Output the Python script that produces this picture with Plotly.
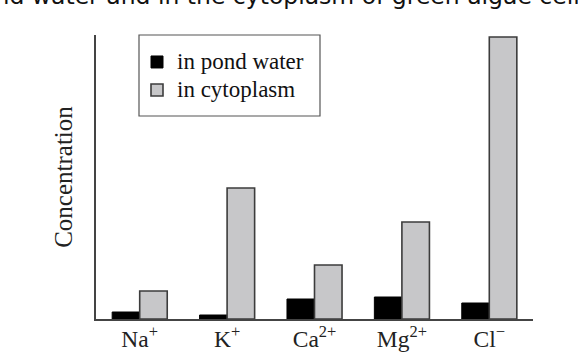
import plotly.graph_objects as go

# Data (arbitrary concentration units)
ions = ["Na<sup>+</sup>", "K<sup>+</sup>", "Ca<sup>2+</sup>", "Mg<sup>2+</sup>", "Cl<sup>\u2212</sup>"]
pond_water = [7, 4, 20, 22, 16]
cytoplasm = [28, 131, 54, 97, 282]
series_names = ["in pond water", "in cytoplasm"]
title_text = "Concentration of ions in pond water and in the cytoplasm of green algae cells"

W, H = 578, 354
ML, MR, MT, MB = 96, 45, 35, 35
PW = W - ML - MR
PH = H - MT - MB


def px_x(p):
    return (p - ML) / PW


def px_y(p):
    return (H - MB - p) / PH


serif = "Liberation Serif, Times New Roman, serif"
legend_label = '<span style="font-size:23px">{}</span>'

fig = go.Figure()
fig.add_trace(go.Bar(
    x=ions, y=pond_water, name=legend_label.format(series_names[0]),
    marker=dict(color="#000000", line=dict(color="#000000", width=1)),
))
fig.add_trace(go.Bar(
    x=ions, y=cytoplasm, name=legend_label.format(series_names[1]),
    marker=dict(color="#c7c7c9", line=dict(color="#3c3c3c", width=1.6)),
))

fig.update_layout(
    width=W, height=H,
    margin=dict(l=ML, r=MR, t=MT, b=MB, pad=0, autoexpand=False),
    paper_bgcolor="white", plot_bgcolor="white",
    barmode="group", bargap=0.37, bargroupgap=0,
    showlegend=True,
    legend=dict(
        x=px_x(137), y=px_y(76), xanchor="left", yanchor="middle",
        borderwidth=0, bgcolor="rgba(0,0,0,0)",
        font=dict(family=serif, size=19.2, color="#111111"),
        tracegroupgap=0,
    ),
    shapes=[dict(
        type="rect", xref="paper", yref="paper",
        x0=px_x(139), x1=px_x(320), y0=px_y(116), y1=px_y(35),
        line=dict(color="#555555", width=1.2), fillcolor="white", layer="below",
    )],
    xaxis=dict(
        automargin=False,
        showline=True, linecolor="#444444", linewidth=1.6,
        showgrid=False, zeroline=False, ticks="",
        tickfont=dict(family=serif, size=23.5, color="#222222"),
        ticklabelstandoff=-2,
        range=[-0.5, 4.5],
    ),
    yaxis=dict(
        automargin=False,
        showline=True, linecolor="#444444", linewidth=1.6,
        showgrid=False, zeroline=False, ticks="", showticklabels=False,
        range=[0, 284],
        title=dict(text="Concentration", font=dict(family=serif, size=25, color="#222222"), standoff=14),
    ),
    annotations=[dict(
        text=title_text, xref="paper", yref="paper",
        x=px_x(594), xanchor="right",
        y=px_y(12), yanchor="bottom",
        showarrow=False,
        font=dict(family="DejaVu Sans", size=23.5, color="#111111"),
    )],
)

fig.write_html("out.html")
